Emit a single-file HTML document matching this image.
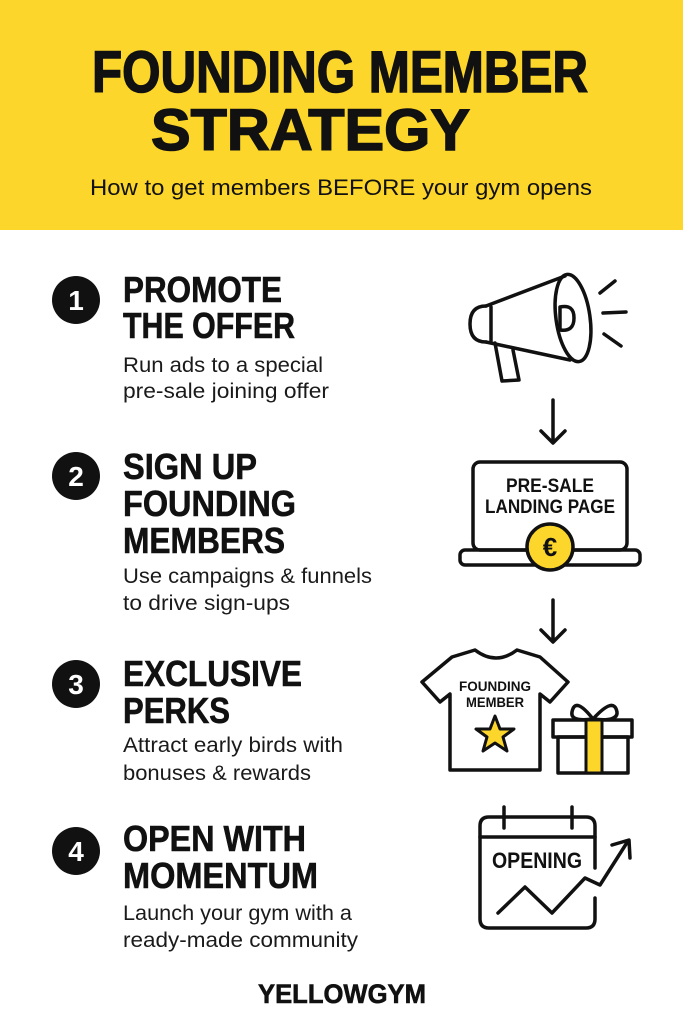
<!DOCTYPE html>
<html><head><meta charset="utf-8"><style>
html,body{margin:0;padding:0;background:#fff}
svg{display:block}
text{font-family:"Liberation Sans",sans-serif}
.h{font-weight:bold;font-size:36px;fill:#111;stroke:#111;stroke-width:0.6}
.d{font-size:21px;fill:#1a1a1a}
</style></head><body>
<svg width="683" height="1024" viewBox="0 0 683 1024" xmlns="http://www.w3.org/2000/svg">
<rect x="0" y="0" width="683" height="230" fill="#FCD62A"/>
<text x="92" y="92" font-size="58" font-weight="bold" fill="#111" stroke="#111" stroke-width="1.5" textLength="496" lengthAdjust="spacingAndGlyphs">FOUNDING MEMBER</text>
<text x="151" y="150" font-size="58" font-weight="bold" fill="#111" stroke="#111" stroke-width="1.5" textLength="319" lengthAdjust="spacingAndGlyphs">STRATEGY</text>
<text x="90" y="195" font-size="22" fill="#111" textLength="502" lengthAdjust="spacingAndGlyphs">How to get members BEFORE your gym opens</text>

<g fill="#111">
<circle cx="76" cy="300" r="24"/><circle cx="76" cy="476" r="24"/><circle cx="76" cy="684" r="24"/><circle cx="76" cy="851" r="24"/>
</g>
<g fill="#fff" font-weight="bold" font-size="28" text-anchor="middle">
<text x="76" y="310">1</text><text x="76" y="486">2</text><text x="76" y="694">3</text><text x="76" y="861">4</text>
</g>

<text class="h" x="123" y="302" textLength="159" lengthAdjust="spacingAndGlyphs">PROMOTE</text>
<text class="h" x="123" y="338" textLength="172" lengthAdjust="spacingAndGlyphs">THE OFFER</text>
<text class="d" x="123" y="372" textLength="200" lengthAdjust="spacingAndGlyphs">Run ads to a special</text>
<text class="d" x="123" y="398" textLength="206" lengthAdjust="spacingAndGlyphs">pre-sale joining offer</text>

<text class="h" x="123" y="479" textLength="134" lengthAdjust="spacingAndGlyphs">SIGN UP</text>
<text class="h" x="123" y="516" textLength="173" lengthAdjust="spacingAndGlyphs">FOUNDING</text>
<text class="h" x="123" y="553" textLength="162" lengthAdjust="spacingAndGlyphs">MEMBERS</text>
<text class="d" x="123" y="583" textLength="249" lengthAdjust="spacingAndGlyphs">Use campaigns &amp; funnels</text>
<text class="d" x="123" y="610" textLength="167" lengthAdjust="spacingAndGlyphs">to drive sign-ups</text>

<text class="h" x="123" y="686" textLength="179" lengthAdjust="spacingAndGlyphs">EXCLUSIVE</text>
<text class="h" x="123" y="723" textLength="107" lengthAdjust="spacingAndGlyphs">PERKS</text>
<text class="d" x="123" y="752" textLength="220" lengthAdjust="spacingAndGlyphs">Attract early birds with</text>
<text class="d" x="123" y="780" textLength="188" lengthAdjust="spacingAndGlyphs">bonuses &amp; rewards</text>

<text class="h" x="123" y="851" textLength="183" lengthAdjust="spacingAndGlyphs">OPEN WITH</text>
<text class="h" x="123" y="888" textLength="195" lengthAdjust="spacingAndGlyphs">MOMENTUM</text>
<text class="d" x="123" y="920" textLength="229" lengthAdjust="spacingAndGlyphs">Launch your gym with a</text>
<text class="d" x="123" y="947" textLength="235" lengthAdjust="spacingAndGlyphs">ready-made community</text>

<text x="258" y="1003" font-size="27" font-weight="bold" fill="#111" stroke="#111" stroke-width="0.6" textLength="168" lengthAdjust="spacingAndGlyphs">YELLOWGYM</text>

<g fill="none" stroke="#111" stroke-width="3.5" stroke-linecap="round" stroke-linejoin="round">
<path d="M486 306 L565 276 M486 342 L570 360"/>
<path d="M486 306 Q470 306 470 324 Q470 342 486 342"/>
<line x1="491" y1="307" x2="491" y2="341"/>
<ellipse cx="573" cy="318" rx="17" ry="44" transform="rotate(-8 573 318)"/>
<path d="M560 307 Q574 304 574 318 Q574 332 560 330 Z"/>
<path d="M495 343 L502 381 L519 380 L513 350"/>
<line x1="600" y1="293" x2="615" y2="281"/>
<line x1="603" y1="313" x2="626" y2="312"/>
<line x1="604" y1="334" x2="621" y2="346"/>
<path d="M553 400 V442 M541 431 L553 443 L565 431"/>
<path d="M553 600 V641 M541 630 L553 642 L565 630"/>
<rect x="473" y="462" width="154" height="88" rx="7"/>
<rect x="460" y="550" width="180" height="15" rx="5"/>
<path d="M475 650 L452 657 L422 682 L440 702 L450 694 L450 770 L540 770 L540 694 L550 702 L568 682 L540 657 L517 650 Q496 666 475 650 Z"/>
<rect x="553" y="720" width="79" height="17"/>
<rect x="558" y="737" width="70" height="36"/>
<path d="M593 719 Q575 696 572 712 Q570 722 593 719 Q614 696 617 712 Q618 722 593 719"/>
<path d="M595 868 V826 Q595 817 586 817 H489 Q480 817 480 826 V919 Q480 928 489 928 H586 Q595 928 595 919 V898"/>
<line x1="480" y1="837" x2="595" y2="837"/>
<line x1="504" y1="807" x2="504" y2="828"/>
<line x1="572" y1="807" x2="572" y2="828"/>
<polyline points="498,913 525,887 552,913 585,878 600,885 628,841"/>
<path d="M612 845 L629 840 L630 858"/>
</g>
<g font-weight="bold" fill="#111" text-anchor="middle">
<text x="550" y="492" font-size="19" textLength="88" lengthAdjust="spacingAndGlyphs">PRE-SALE</text>
<text x="550" y="513" font-size="19" textLength="130" lengthAdjust="spacingAndGlyphs">LANDING PAGE</text>
<text x="495" y="691" font-size="14" textLength="72" lengthAdjust="spacingAndGlyphs">FOUNDING</text>
<text x="495" y="707" font-size="14" textLength="58" lengthAdjust="spacingAndGlyphs">MEMBER</text>
<text x="537" y="868" font-size="22" textLength="90" lengthAdjust="spacingAndGlyphs">OPENING</text>
</g>
<circle cx="550" cy="547" r="23" fill="#FCD62A" stroke="#111" stroke-width="3.5"/>
<text x="550" y="556" font-size="26" font-weight="bold" fill="#111" text-anchor="middle">€</text>
<rect x="586" y="720" width="16" height="53" fill="#FCD62A" stroke="#111" stroke-width="3"/>
<polygon points="495,716 500,729 514,729 503,737 507,751 495,743 483,751 487,737 476,729 490,729" fill="#FCD62A" stroke="#111" stroke-width="3" stroke-linejoin="round"/>
</svg>
</body></html>
